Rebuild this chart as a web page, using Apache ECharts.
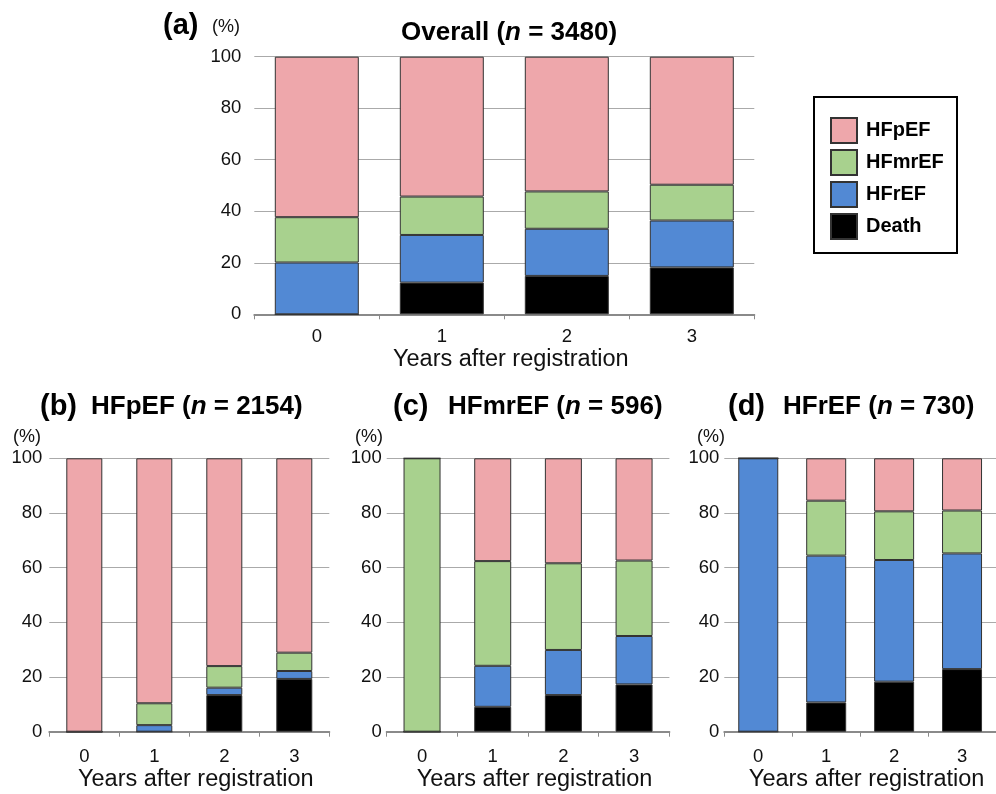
<!DOCTYPE html>
<html><head><meta charset="utf-8">
<script src="https://cdn.jsdelivr.net/npm/echarts@6/dist/echarts.min.js"></script>
<style>html,body{margin:0;padding:0;background:#fff}#c{width:996px;height:794px}</style>
</head><body><div id="c"></div>
<script>
// ---- data ----
const years = ['0', '1', '2', '3'];
const yTicks = [0, 20, 40, 60, 80, 100];
const seriesNames = ['Death', 'HFrEF', 'HFmrEF', 'HFpEF'];
const legendOrder = ['HFpEF', 'HFmrEF', 'HFrEF', 'Death'];

// (a) Overall
const overallDeath  = [0, 12.3, 14.9, 18.2];
const overallHFrEF  = [20.1, 18.5, 18.3, 18.2];
const overallHFmrEF = [17.6, 14.9, 14.5, 13.9];
const overallHFpEF  = [62.3, 54.3, 52.3, 49.7];
// (b) HFpEF at baseline
const pDeath  = [0, 0, 13.4, 19.3];
const pHFrEF  = [0, 2.4, 2.7, 2.9];
const pHFmrEF = [0, 8.0, 7.9, 6.7];
const pHFpEF  = [100, 89.6, 76.0, 71.1];
// (c) HFmrEF at baseline
const mDeath  = [0, 9.1, 13.4, 17.3];
const mHFrEF  = [0, 15.0, 16.5, 17.7];
const mHFmrEF = [100, 38.3, 31.7, 27.6];
const mHFpEF  = [0, 37.6, 38.4, 37.4];
// (d) HFrEF at baseline
const rDeath  = [0, 10.7, 18.3, 22.9];
const rHFrEF  = [100, 53.7, 44.5, 42.3];
const rHFmrEF = [0, 20.1, 17.8, 15.7];
const rHFpEF  = [0, 15.5, 19.4, 19.1];

const panelLetters = ['(a)', '(b)', '(c)', '(d)'];
const panelNames = ['Overall', 'HFpEF', 'HFmrEF', 'HFrEF'];
const panelN = ['3480', '2154', '596', '730'];
const xAxisName = 'Years after registration';
const unitLabel = '(%)';

const panelData = [
  [overallDeath, overallHFrEF, overallHFmrEF, overallHFpEF],
  [pDeath, pHFrEF, pHFmrEF, pHFpEF],
  [mDeath, mHFrEF, mHFmrEF, mHFpEF],
  [rDeath, rHFrEF, rHFmrEF, rHFpEF]
];

// ---- styling / layout ----
const FONT = '"Liberation Sans", Arial, Helvetica, sans-serif';
const colors = { Death: '#000000', HFrEF: '#5289d4', HFmrEF: '#a8d18e', HFpEF: '#eea7ab' };
const layout = [
  { left: 254.3, top: 56.7, width: 500, height: 257.6, barWidth: 84, labelMargin: 13, yMargin: 13, nameGap: 31,
    letter: [163, 11], unit: [212, 18], title: [401, 20] },
  { left: 49.3, top: 458.3, width: 280, height: 273.4, barWidth: 36, labelMargin: 16, yMargin: 7, nameGap: 35,
    letter: [40, 392], unit: [13, 428], title: [91, 394] },
  { left: 386.7, top: 458.3, width: 282.7, height: 273.4, barWidth: 37, labelMargin: 16, yMargin: 5, nameGap: 35,
    letter: [393, 392], unit: [355, 428], title: [448, 394] },
  { left: 724.3, top: 458.3, width: 282.7, height: 273.4, barWidth: 40, labelMargin: 16, yMargin: 5, nameGap: 35,
    letter: [728, 392], unit: [697, 428], title: [783, 394] }
];

const grid = [], xAxis = [], yAxis = [], series = [], title = [];
layout.forEach((L, i) => {
  grid.push({ left: L.left, top: L.top, width: L.width, height: L.height, containLabel: false });
  xAxis.push({
    type: 'category', gridIndex: i, data: years,
    name: xAxisName, nameLocation: 'middle', nameGap: L.nameGap,
    nameTextStyle: { fontFamily: FONT, fontSize: 23.5, color: '#111', padding: [0, 0, 0, 13] },
    axisLine: { show: true, lineStyle: { color: '#8a8a8a', width: 2 } },
    axisTick: { show: true, length: 5, lineStyle: { color: '#8a8a8a', width: 1 } },
    axisLabel: { fontFamily: FONT, fontSize: 18.5, color: '#111', margin: L.labelMargin }
  });
  yAxis.push({
    type: 'value', gridIndex: i, min: 0, max: 100, interval: 20,
    axisLine: { show: false }, axisTick: { show: false },
    splitLine: { show: true, lineStyle: { color: '#aaaaaa', width: 1 } },
    axisLabel: { fontFamily: FONT, fontSize: 18.5, color: '#111', margin: L.yMargin,
      formatter: v => yTicks.includes(v) ? String(v) : '' }
  });
  seriesNames.forEach((nm, k) => {
    series.push({
      type: 'bar', name: nm, xAxisIndex: i, yAxisIndex: i, stack: 'p' + i,
      barWidth: L.barWidth, data: panelData[i][k],
      itemStyle: { color: colors[nm], borderColor: '#333333', borderWidth: 1 },
      emphasis: { disabled: true }, animation: false
    });
  });
  title.push({ text: panelLetters[i], left: L.letter[0], top: L.letter[1], padding: 0,
    textStyle: { fontFamily: FONT, fontSize: 29, fontWeight: 'bold', color: '#000' } });
  title.push({ text: unitLabel, left: L.unit[0], top: L.unit[1], padding: 0,
    textStyle: { fontFamily: FONT, fontSize: 18, fontWeight: 'normal', color: '#111' } });
  title.push({ text: panelNames[i] + ' ({i|n} = ' + panelN[i] + ')', left: L.title[0], top: L.title[1], padding: 0,
    textStyle: { fontFamily: FONT, fontSize: 26, fontWeight: 'bold', color: '#000',
      rich: { i: { fontFamily: FONT, fontSize: 26, fontWeight: 'bold', fontStyle: 'italic', color: '#000' } } } });
});

const chart = echarts.init(document.getElementById('c'), null, { renderer: 'canvas' });
chart.setOption({
  animation: false,
  backgroundColor: '#ffffff',
  title: title,
  grid: grid, xAxis: xAxis, yAxis: yAxis, series: series,
  legend: {
    data: legendOrder, orient: 'vertical', left: 830, top: 117, padding: 0,
    itemWidth: 26, itemHeight: 25, itemGap: 5, icon: 'rect', selectedMode: false,
    textStyle: { fontFamily: FONT, fontSize: 20, fontWeight: 'bold', color: '#000', padding: [0, 0, 0, 4] }
  },
  graphic: [{
    type: 'rect', shape: { x: 814, y: 97, width: 143, height: 156 },
    style: { fill: 'none', stroke: '#000', lineWidth: 2 }, z: 100
  }]
});
</script>
</body></html>
